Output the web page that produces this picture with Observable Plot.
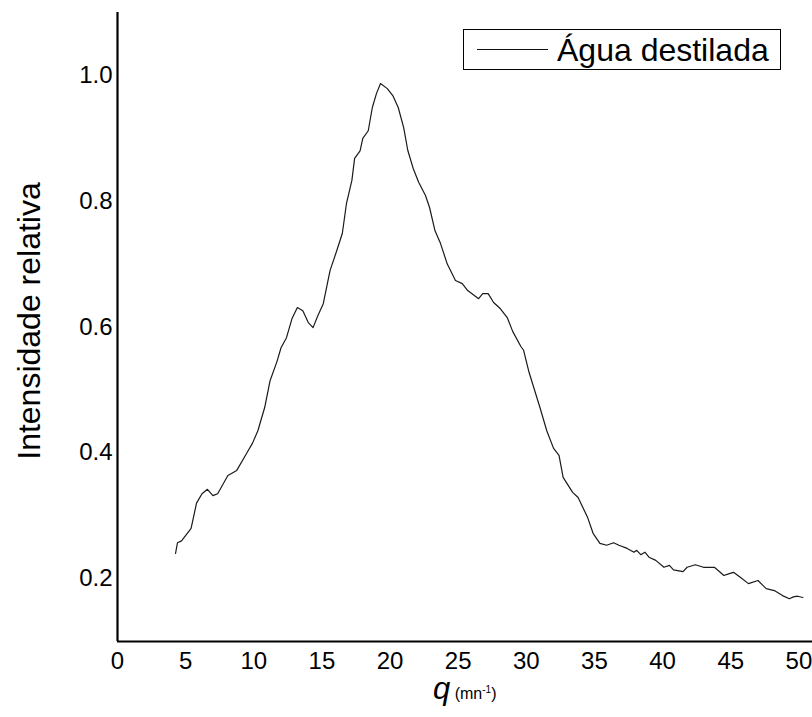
<!DOCTYPE html>
<html>
<head>
<meta charset="utf-8">
<script src="https://cdn.jsdelivr.net/npm/d3@7"></script>
<script src="https://cdn.jsdelivr.net/npm/@observablehq/plot@0.6"></script>
<style>
  body { margin: 0; background: #fff; }
  #wrap { position: relative; width: 812px; height: 717px; font-family: "Liberation Sans", Arial, sans-serif; color: #000; }
  #legend { position: absolute; left: 463px; top: 29px; width: 318px; height: 41px; border: 1px solid #000; box-sizing: border-box; background: #fff; }
  #legend .swatch { position: absolute; left: 13px; top: 19px; width: 71px; height: 1px; background: #111; }
  #legend .txt { position: absolute; left: 93px; top: 4px; font-size: 32px; line-height: 32px; white-space: nowrap; }
  #xlabel { position: absolute; left: 433px; top: 673px; white-space: nowrap; line-height: 1; }
  #xlabel i { font-size: 31px; }
  #xlabel span { font-size: 16px; }
  #xlabel sup { font-size: 10px; }
</style>
</head>
<body>
<div id="wrap">
  <div id="chart"></div>
  <div id="legend"><div class="swatch"></div><div class="txt">Água destilada</div></div>
  <div id="xlabel"><i>q</i> <span>(mn<sup>-1</sup>)</span></div>
</div>
<script>
const seriesName = "Água destilada";
const xLabel = "q (mn⁻¹)";
const yLabel = "Intensidade relativa";
const xTicks = [0, 5, 10, 15, 20, 25, 30, 35, 40, 45, 50];
const yTicks = [0.2, 0.4, 0.6, 0.8, 1.0];

const qValues = [
  4.26, 4.4, 4.7, 5.4, 5.8, 6.2, 6.6, 7.0, 7.35, 8.1, 8.75, 9.5, 9.9, 10.3, 10.8,
  11.2, 11.7, 12.0, 12.4, 12.8, 13.2, 13.6, 14.0, 14.35, 14.7, 15.1, 15.6, 16.1,
  16.5, 16.8, 17.2, 17.4, 17.8, 18.0, 18.4, 18.7, 19.0, 19.3, 19.8, 20.2, 20.6,
  21.0, 21.3, 21.7, 22.1, 22.6, 22.9, 23.3, 23.7, 24.2, 24.8, 25.3, 25.7, 26.5,
  26.8, 27.2, 27.6, 28.1, 28.6, 29.0, 29.6, 29.8, 30.2, 30.5, 31.0, 31.5, 32.0,
  32.4, 32.7, 33.4, 33.8, 34.5, 34.9, 35.4, 35.9, 36.4, 36.8, 37.4, 37.9, 38.1,
  38.4, 38.7, 39.0, 39.5, 40.1, 40.5, 40.8, 41.5, 41.8, 42.4, 43.0, 43.8, 44.5,
  44.9, 45.2, 45.7, 46.3, 47.0, 47.6, 48.2, 48.8, 49.3, 49.6, 49.9, 50.3
];
const intensity = [
  0.240, 0.257, 0.260, 0.280, 0.320, 0.335, 0.342, 0.332, 0.335, 0.364, 0.372, 0.400, 0.415, 0.435, 0.472,
  0.515, 0.545, 0.567, 0.583, 0.613, 0.631, 0.626, 0.607, 0.599, 0.618, 0.637, 0.690, 0.722,
  0.749, 0.796, 0.833, 0.868, 0.880, 0.900, 0.912, 0.949, 0.971, 0.987, 0.979, 0.968, 0.949,
  0.917, 0.881, 0.852, 0.830, 0.809, 0.790, 0.753, 0.733, 0.700, 0.674, 0.669, 0.658, 0.645,
  0.653, 0.653, 0.639, 0.629, 0.615, 0.593, 0.569, 0.563, 0.528, 0.507, 0.472, 0.435, 0.407,
  0.396, 0.361, 0.337, 0.329, 0.297, 0.272, 0.256, 0.253, 0.257, 0.253, 0.248, 0.242, 0.245,
  0.238, 0.242, 0.234, 0.229, 0.218, 0.221, 0.214, 0.211, 0.218, 0.222, 0.218, 0.218, 0.205,
  0.208, 0.210, 0.202, 0.192, 0.197, 0.184, 0.181, 0.173, 0.168, 0.171, 0.172, 0.170
];

const data = qValues.map((q, i) => ({q, v: intensity[i]}));

const chart = Plot.plot({
  width: 812,
  height: 717,
  marginLeft: 117,
  marginRight: 0,
  marginTop: 12,
  marginBottom: 76,
  style: { fontFamily: '"Liberation Sans", Arial, sans-serif', background: "#fff", color: "#000" },
  x: { domain: [0, 51], label: null },
  y: { domain: [0.1, 1.1], label: null },
  marks: [
    Plot.axisX({ ticks: xTicks, tickSize: 0, tickPadding: 10, fontSize: 24, label: null, tickFormat: d => String(d) }),
    Plot.axisY({ ticks: yTicks, tickSize: 0, tickPadding: 5, fontSize: 24, label: null, tickFormat: d => d.toFixed(1) }),
    Plot.text([yLabel], { frameAnchor: "left", textAnchor: "middle", lineAnchor: "middle", dx: -88, dy: -6, rotate: -90, fontSize: 32, fill: "#000" }),
    Plot.line(data, { x: "q", y: "v", stroke: "#1a1a1a", strokeWidth: 1.2 }),
    Plot.ruleX([0], { stroke: "#000", strokeWidth: 2.2 }),
    Plot.ruleY([0.1], { stroke: "#000", strokeWidth: 2.2 })
  ]
});
document.getElementById("chart").appendChild(chart);
</script>
</body>
</html>
